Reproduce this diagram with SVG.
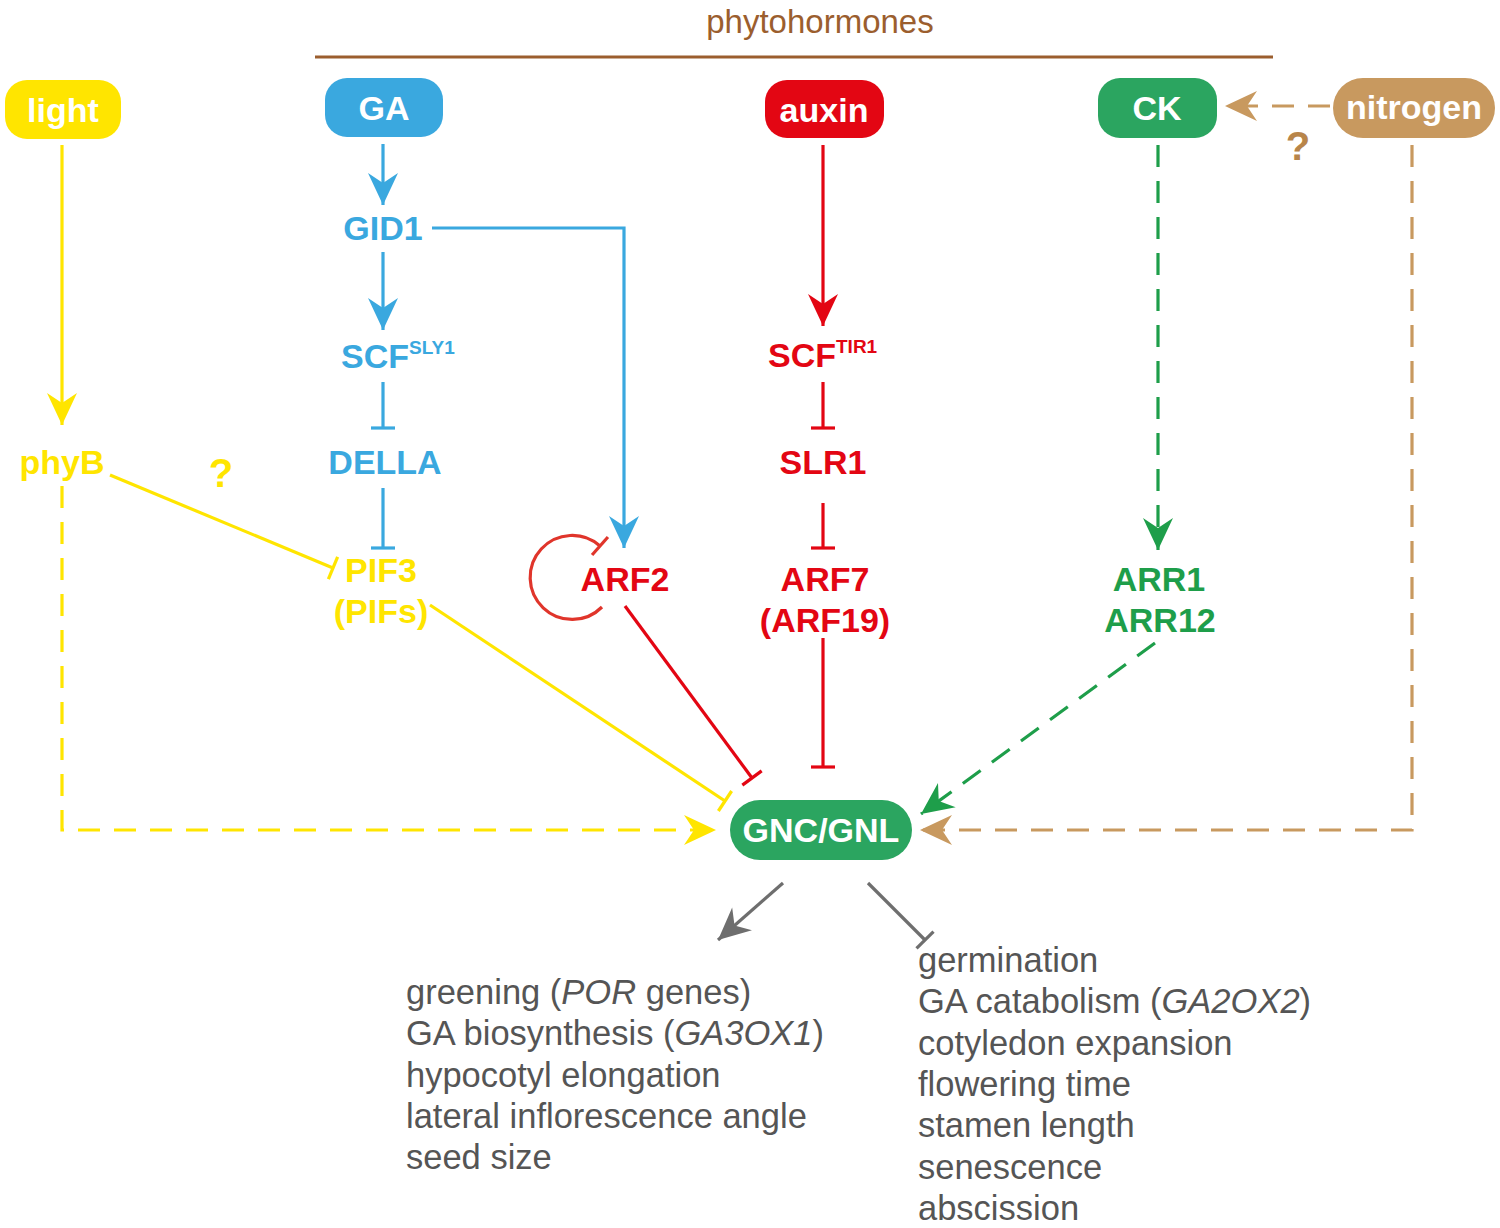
<svg xmlns="http://www.w3.org/2000/svg" width="1500" height="1228" viewBox="0 0 1500 1228">
<style>
.lbl{font-family:"Liberation Sans",Arial,sans-serif;font-weight:bold;font-size:34px;text-anchor:middle}
.st{text-anchor:start}
.q{font-size:40px}
.box{font-family:"Liberation Sans",Arial,sans-serif;font-weight:bold;font-size:34px;text-anchor:middle;fill:#fff}
.out{font-family:"Liberation Sans",Arial,sans-serif;font-size:34.5px;fill:#555}
.ln{fill:none;stroke-width:3.2}
.dash{stroke-dasharray:22 14}
.y{stroke:#FFE500}.b{stroke:#3AA8DF}.r{stroke:#E30613}.g{stroke:#1E9E4A}.t{stroke:#C8995F}.k{stroke:#6E6E6E}
</style>
<defs>
<marker id="ay" viewBox="-34 -17 36 34" refX="0" refY="0" markerWidth="36" markerHeight="34" markerUnits="userSpaceOnUse" orient="auto"><path d="M0,0 L-32,-15 L-22,0 L-32,15 Z" fill="#FFE500"/></marker>
<marker id="ab" viewBox="-34 -17 36 34" refX="0" refY="0" markerWidth="36" markerHeight="34" markerUnits="userSpaceOnUse" orient="auto"><path d="M0,0 L-32,-15 L-22,0 L-32,15 Z" fill="#3AA8DF"/></marker>
<marker id="ar" viewBox="-34 -17 36 34" refX="0" refY="0" markerWidth="36" markerHeight="34" markerUnits="userSpaceOnUse" orient="auto"><path d="M0,0 L-32,-15 L-22,0 L-32,15 Z" fill="#E30613"/></marker>
<marker id="ag" viewBox="-34 -17 36 34" refX="0" refY="0" markerWidth="36" markerHeight="34" markerUnits="userSpaceOnUse" orient="auto"><path d="M0,0 L-32,-15 L-22,0 L-32,15 Z" fill="#1E9E4A"/></marker>
<marker id="at" viewBox="-34 -17 36 34" refX="0" refY="0" markerWidth="36" markerHeight="34" markerUnits="userSpaceOnUse" orient="auto"><path d="M0,0 L-32,-15 L-22,0 L-32,15 Z" fill="#C8995F"/></marker>
<marker id="ak" viewBox="-34 -17 36 34" refX="0" refY="0" markerWidth="36" markerHeight="34" markerUnits="userSpaceOnUse" orient="auto"><path d="M0,0 L-32,-15 L-22,0 L-32,15 Z" fill="#6E6E6E"/></marker>
<marker id="ty" viewBox="-4 -14 8 28" refX="0" refY="0" markerWidth="8" markerHeight="28" markerUnits="userSpaceOnUse" orient="auto"><path d="M0,-12 L0,12" stroke="#FFE500" stroke-width="3.2"/></marker>
<marker id="tb" viewBox="-4 -14 8 28" refX="0" refY="0" markerWidth="8" markerHeight="28" markerUnits="userSpaceOnUse" orient="auto"><path d="M0,-12 L0,12" stroke="#3AA8DF" stroke-width="3.2"/></marker>
<marker id="tr" viewBox="-4 -14 8 28" refX="0" refY="0" markerWidth="8" markerHeight="28" markerUnits="userSpaceOnUse" orient="auto"><path d="M0,-12 L0,12" stroke="#E30613" stroke-width="3.2"/></marker>
<marker id="tr2" viewBox="-4 -14 8 28" refX="0" refY="0" markerWidth="8" markerHeight="28" markerUnits="userSpaceOnUse" orient="auto"><path d="M0,-12 L0,12" stroke="#E0352B" stroke-width="3.2"/></marker>
<marker id="tk" viewBox="-4 -14 8 28" refX="0" refY="0" markerWidth="8" markerHeight="28" markerUnits="userSpaceOnUse" orient="auto"><path d="M0,-12 L0,12" stroke="#6E6E6E" stroke-width="3.2"/></marker>
</defs>
<rect width="1500" height="1228" fill="#fff"/>

<g id="phytohormones">
<text x="820" y="33" font-family="Liberation Sans, Arial, sans-serif" font-size="33" fill="#9B5E2E" text-anchor="middle">phytohormones</text>
<line x1="315" y1="57" x2="1273" y2="57" stroke="#9B5E2E" stroke-width="3"/>
</g>

<g id="connectors">
<line class="ln y" x1="62" y1="145" x2="62" y2="425" marker-end="url(#ay)"/>
<path class="ln y dash" d="M62,486 V830 H716" marker-end="url(#ay)"/>
<line class="ln y" x1="110" y1="475" x2="333" y2="568" marker-end="url(#ty)"/>
<line class="ln y" x1="430" y1="605" x2="725" y2="801" marker-end="url(#ty)"/>
<line class="ln b" x1="383" y1="144" x2="383" y2="205" marker-end="url(#ab)"/>
<line class="ln b" x1="383" y1="252" x2="383" y2="330" marker-end="url(#ab)"/>
<line class="ln b" x1="383" y1="382" x2="383" y2="428" marker-end="url(#tb)"/>
<line class="ln b" x1="383" y1="488" x2="383" y2="548" marker-end="url(#tb)"/>
<path class="ln b" d="M432,228 H624 V548" marker-end="url(#ab)"/>
<path class="ln" stroke="#E0352B" d="M602,607 A42,42 0 1 1 600,546" marker-end="url(#tr2)"/>
<line class="ln r" x1="625" y1="606" x2="752" y2="778" marker-end="url(#tr)"/>
<line class="ln r" x1="823" y1="145" x2="823" y2="326" marker-end="url(#ar)"/>
<line class="ln r" x1="823" y1="382" x2="823" y2="428" marker-end="url(#tr)"/>
<line class="ln r" x1="823" y1="503" x2="823" y2="548" marker-end="url(#tr)"/>
<line class="ln r" x1="823" y1="638" x2="823" y2="767" marker-end="url(#tr)"/>
<line class="ln g dash" x1="1158" y1="145" x2="1158" y2="550" marker-end="url(#ag)"/>
<line class="ln g dash" x1="1155" y1="643" x2="921" y2="814" marker-end="url(#ag)"/>
<line class="ln t dash" x1="1330" y1="106" x2="1225" y2="106" marker-end="url(#at)"/>
<path class="ln t dash" d="M1412,145 V830 H920" marker-end="url(#at)"/>
<line class="ln k" x1="783" y1="883" x2="718" y2="940" marker-end="url(#ak)"/>
<line class="ln k" x1="868" y1="883" x2="925" y2="940" marker-end="url(#tk)"/>
</g>

<g id="light"><rect x="5" y="80" width="116" height="59" rx="22" fill="#FFE500"/><text class="box" x="63" y="122">light</text></g>
<g id="GA"><rect x="325" y="78" width="118" height="59" rx="22" fill="#3AA8DF"/><text class="box" x="384" y="120">GA</text></g>
<g id="auxin"><rect x="765" y="80" width="119" height="58" rx="22" fill="#E30613"/><text class="box" x="824" y="122">auxin</text></g>
<g id="CK"><rect x="1098" y="78" width="119" height="60" rx="22" fill="#2BA560"/><text class="box" x="1157" y="120">CK</text></g>
<g id="nitrogen"><rect x="1333" y="78" width="162" height="60" rx="30" fill="#C8995F"/><text class="box" x="1414" y="119">nitrogen</text></g>
<g id="q-nitrogen"><text class="lbl q" x="1298" y="160" fill="#B8854A">?</text></g>

<g id="phyB"><text class="lbl" x="62" y="474" fill="#FFE500">phyB</text></g>
<g id="q-phyB"><text class="lbl q" x="221" y="487" fill="#FFE500">?</text></g>
<g id="GID1"><text class="lbl" x="383" y="240" fill="#3AA8DF">GID1</text></g>
<g id="SCF-SLY1"><text class="lbl st" x="341" y="368" fill="#3AA8DF">SCF<tspan font-size="19" dy="-14">SLY1</tspan></text></g>
<g id="DELLA"><text class="lbl" x="385" y="474" fill="#3AA8DF">DELLA</text></g>
<g id="PIF3"><text class="lbl" x="381" y="582" fill="#FFE500">PIF3</text><text class="lbl" x="381" y="623" fill="#FFE500">(PIFs)</text></g>
<g id="ARF2"><text class="lbl" x="625" y="591" fill="#E30613">ARF2</text></g>
<g id="SCF-TIR1"><text class="lbl st" x="768" y="367" fill="#E30613">SCF<tspan font-size="19" dy="-14">TIR1</tspan></text></g>
<g id="SLR1"><text class="lbl" x="823" y="474" fill="#E30613">SLR1</text></g>
<g id="ARF7"><text class="lbl" x="825" y="591" fill="#E30613">ARF7</text><text class="lbl" x="825" y="632" fill="#E30613">(ARF19)</text></g>
<g id="ARR1"><text class="lbl" x="1159" y="591" fill="#1E9E4A">ARR1</text><text class="lbl" x="1160" y="632" fill="#1E9E4A">ARR12</text></g>
<g id="GNC-GNL"><rect x="730" y="800" width="182" height="60" rx="30" fill="#2BA560"/><text class="box" x="821" y="842">GNC/GNL</text></g>

<g id="promoted">
<text class="out" x="406" y="1004">greening (<tspan font-style="italic">POR</tspan> genes)</text>
<text class="out" x="406" y="1045">GA biosynthesis (<tspan font-style="italic">GA3OX1</tspan>)</text>
<text class="out" x="406" y="1087">hypocotyl elongation</text>
<text class="out" x="406" y="1128">lateral inflorescence angle</text>
<text class="out" x="406" y="1169">seed size</text>
</g>
<g id="repressed">
<text class="out" x="918" y="972">germination</text>
<text class="out" x="918" y="1013">GA catabolism (<tspan font-style="italic">GA2OX2</tspan>)</text>
<text class="out" x="918" y="1055">cotyledon expansion</text>
<text class="out" x="918" y="1096">flowering time</text>
<text class="out" x="918" y="1137">stamen length</text>
<text class="out" x="918" y="1179">senescence</text>
<text class="out" x="918" y="1220">abscission</text>
</g>
</svg>
